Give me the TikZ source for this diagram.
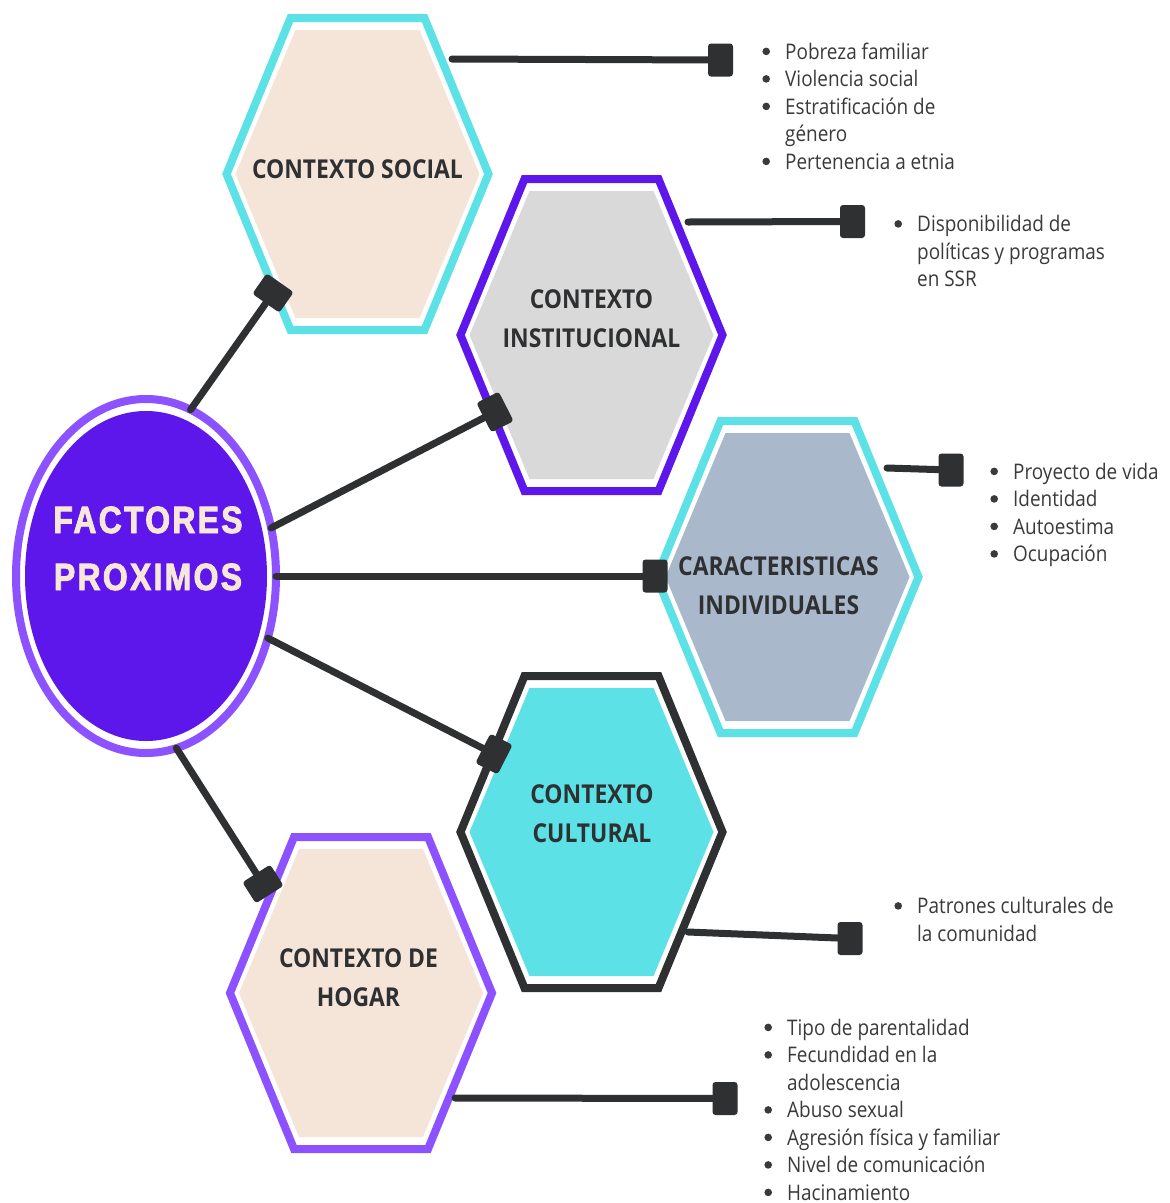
\documentclass[tikz,border=0pt]{standalone}
\usepackage{fontspec}
\setmainfont{Open Sans}[FakeStretch=0.88]
\newfontfamily\titlefont{Liberation Sans}[FakeStretch=0.84,LetterSpace=6,BoldFeatures={FakeBold=2.2}]
\usetikzlibrary{shapes.geometric}

\definecolor{ringviolet}{HTML}{8C52FF}
\definecolor{deepviolet}{HTML}{5E17EB}
\definecolor{aqua}{HTML}{5CE1E6}
\definecolor{cream}{HTML}{F5E5D8}
\definecolor{silver}{HTML}{D9D9D9}
\definecolor{slate}{HTML}{A9B9CB}
\definecolor{ink}{HTML}{2F3032}
\definecolor{bodytext}{HTML}{3A3A3A}
\definecolor{titlecream}{HTML}{F7E7D9}

% hexagonal cell: #1 name, #2 cx, #3 cy, #4 border colour, #5 fill colour
\newcommand{\hexcell}[5]{%
  \fill[#5] (#2-122,#3) -- (#2-62,#3-144) -- (#2+62,#3-144) -- (#2+122,#3)
        -- (#2+62,#3+144) -- (#2-62,#3+144) -- cycle;
  \draw[#4, line width=8pt, line join=miter] (#2-131,#3) -- (#2-67,#3-156)
        -- (#2+67,#3-156) -- (#2+131,#3) -- (#2+67,#3+156) -- (#2-67,#3+156) -- cycle;
  \coordinate (#1) at (#2,#3);}

% round bullet hanging in the left margin of a list line
\newcommand{\itm}{\llap{\tikz[baseline={(0pt,-7.6pt)}]\fill[bodytext] (0pt,0pt) circle (3.8pt);\hspace{15.2pt}}}

\tikzset{
  connector/.style={ink, line width=7pt, line cap=round},
  tabmark/.style={fill=ink, rounded corners=3pt, minimum width=25pt,
    minimum height=33pt, inner sep=0pt, outer sep=0pt},
  hexlabel/.style={anchor=base, inner sep=0pt, text=ink,
    font=\fontsize{26}{39}\selectfont\bfseries},
  itemlist/.style={anchor=base west, inner sep=0pt, text=bodytext,
    font=\fontsize{21.5}{27.5}\selectfont},
}

\begin{document}
\begin{tikzpicture}[x=1pt,y=-1pt]
\fill[white] (0,0) rectangle (1170,1203);
\useasboundingbox (0,0) rectangle (1170,1203);

% hexagons
\hexcell{h-social}{357.5}{174}{aqua}{cream}
\hexcell{h-inst}{591.5}{335}{deepviolet}{silver}
\hexcell{h-car}{787.5}{577}{aqua}{slate}
\hexcell{h-cul}{591.5}{832}{ink}{aqua}
\hexcell{h-hog}{361}{993}{ringviolet}{cream}

% hexagon titles
\node[hexlabel] (t-social) at (357.5,178) {CONTEXTO SOCIAL};
\node[hexlabel] (t-inst) at (591.5,308) {\begin{tabular}[t]{@{}c@{}}CONTEXTO\\INSTITUCIONAL\end{tabular}};
\node[hexlabel] (t-car) at (778.5,575) {\begin{tabular}[t]{@{}c@{}}CARACTERISTICAS\\INDIVIDUALES\end{tabular}};
\node[hexlabel] (t-cul) at (592,803) {\begin{tabular}[t]{@{}c@{}}CONTEXTO\\CULTURAL\end{tabular}};
\node[hexlabel] (t-hog) at (358.5,967) {\begin{tabular}[t]{@{}c@{}}CONTEXTO DE\\HOGAR\end{tabular}};

% central ellipse
\node[ellipse, draw=ringviolet, line width=8pt, fill=white, minimum width=260pt,
      minimum height=354pt, inner sep=0pt, outer sep=0pt] (fp) at (146,576) {};
\fill[deepviolet] (fp.center) ellipse [x radius=121pt, y radius=165pt];
\node[anchor=base, inner sep=0pt, text=titlecream,
      font=\titlefont\bfseries\fontsize{38}{57}\selectfont] (fp-title) at (148,533)
      {\begin{tabular}[t]{@{}c@{}}FACTORES\\PROXIMOS\end{tabular}};

% markers where the spokes meet the hexagons
\node[tabmark, rotate=55] (m-social) at (273,293) {};
\node[tabmark, rotate=27] (m-inst) at (495,412) {};
\node[tabmark] (m-car) at (655,576) {};
\node[tabmark, rotate=-27] (m-cul) at (494,754) {};
\node[tabmark, rotate=-57.5] (m-hog) at (263,884) {};

% spokes from the ellipse
\draw[connector] (fp.75) -- (m-social);
\draw[connector] (fp.21) -- (m-inst);
\draw[connector] (fp.0) -- (m-car);
\draw[connector] (fp.-27) -- (m-cul);
\draw[connector] (fp.-80) -- (m-hog);

% outgoing leaders to the lists
\coordinate (o-social) at (452,59);
\coordinate (o-inst) at (688,222);
\coordinate (o-car) at (887,468);
\coordinate (o-cul) at (688,932);
\coordinate (o-hog) at (455,1098);
\node[tabmark] (e-social) at (720.5,60) {};
\node[tabmark] (e-inst) at (852.5,221.5) {};
\node[tabmark] (e-car) at (951,470) {};
\node[tabmark] (e-cul) at (850,938.5) {};
\node[tabmark] (e-hog) at (725,1098.5) {};
\draw[connector] (o-social) -- (e-social);
\draw[connector] (o-inst) -- (e-inst);
\draw[connector] (o-car) -- (e-car);
\draw[connector] (o-cul) -- (e-cul);
\draw[connector] (o-hog) -- (e-hog);

% lists
\node[itemlist] (l-social) at (785,59) {\begin{tabular}[t]{@{}l@{}}
  \itm Pobreza familiar\\ \itm Violencia social\\ \itm Estratificación de\\
  género\\ \itm Pertenencia a etnia\end{tabular}};
\node[itemlist] (l-inst) at (917,231.5) {\begin{tabular}[t]{@{}l@{}}
  \itm Disponibilidad de\\ políticas y programas\\ en SSR\end{tabular}};
\node[itemlist] (l-car) at (1013,479) {\begin{tabular}[t]{@{}l@{}}
  \itm Proyecto de vida\\ \itm Identidad\\ \itm Autoestima\\ \itm Ocupación\end{tabular}};
\node[itemlist] (l-cul) at (917,913.5) {\begin{tabular}[t]{@{}l@{}}
  \itm Patrones culturales de\\ la comunidad\end{tabular}};
\node[itemlist] (l-hog) at (787,1035) {\begin{tabular}[t]{@{}l@{}}
  \itm Tipo de parentalidad\\ \itm Fecundidad en la\\ adolescencia\\
  \itm Abuso sexual\\ \itm Agresión física y familiar\\
  \itm Nivel de comunicación\\ \itm Hacinamiento\end{tabular}};
\end{tikzpicture}
\end{document}
